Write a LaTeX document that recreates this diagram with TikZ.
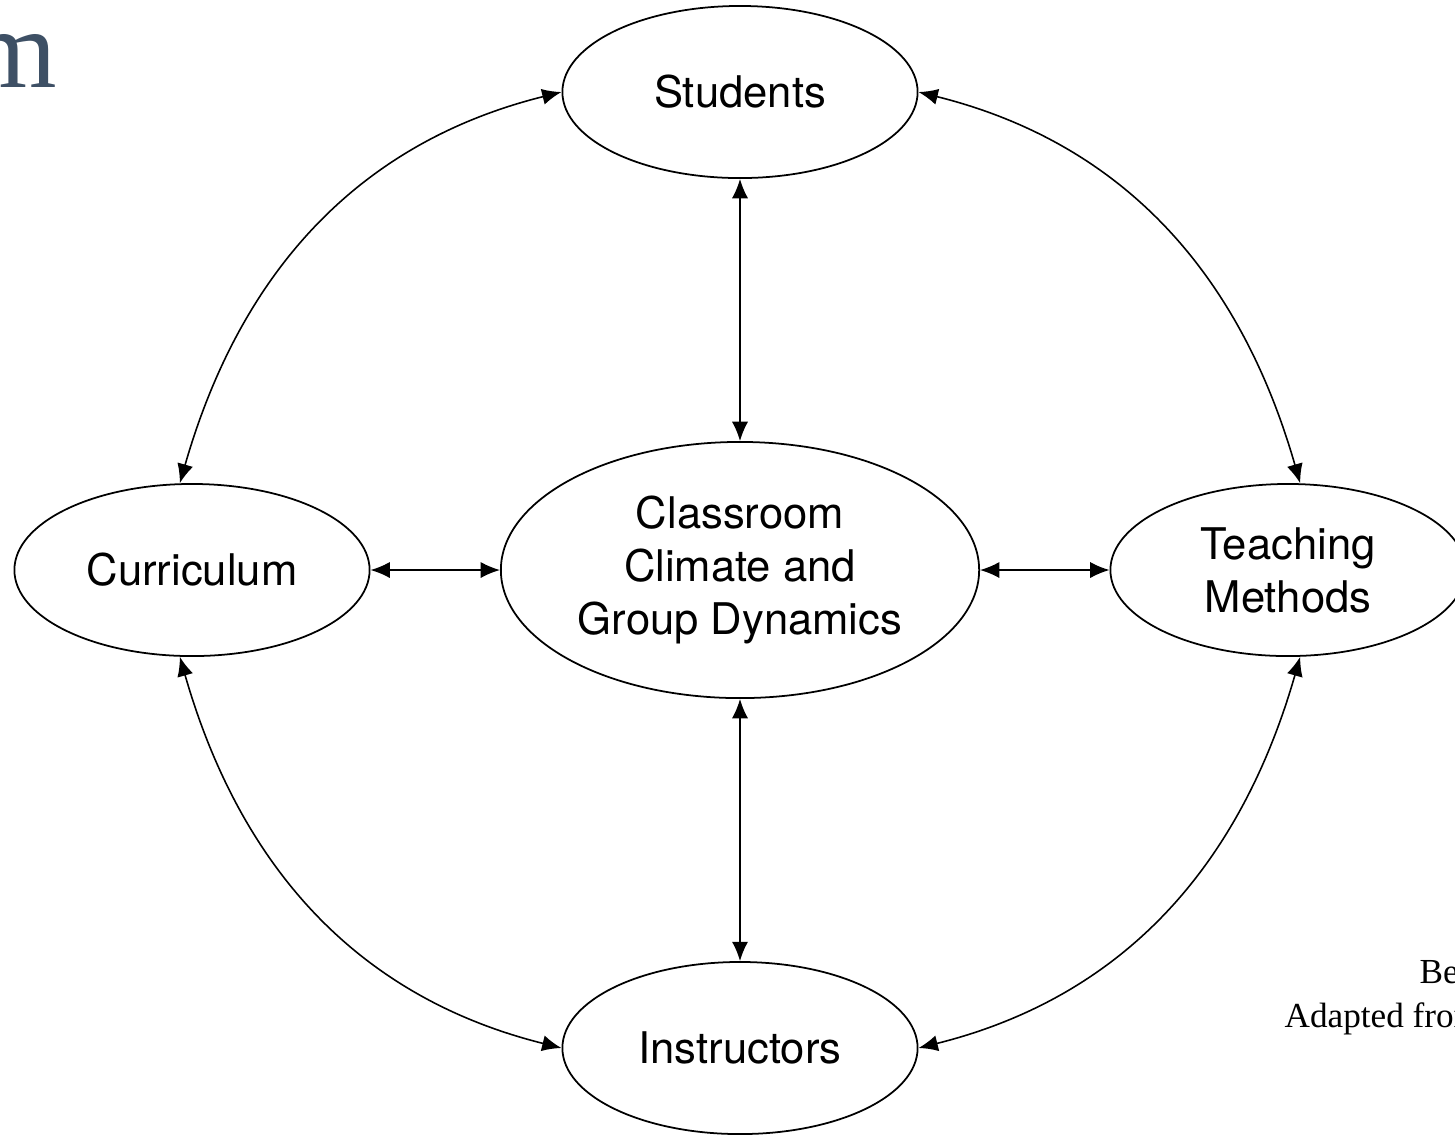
\documentclass[tikz,border=0pt]{standalone}
\usepackage{fontspec}
\setmainfont{Liberation Serif}
\newfontfamily\diagfont{TeX Gyre Heros}
\usetikzlibrary{shapes.geometric,arrows.meta}
\definecolor{slate}{HTML}{3E5065}
\tikzset{
  topic/.style={draw, ellipse, line width=0.5pt, inner sep=0pt,
    minimum width=3.55cm, minimum height=1.72cm, align=center,
    font=\diagfont\fontsize{12.4}{15.1}\selectfont},
  link/.style={arrows={Latex[length=5.5pt,width=4.6pt]-Latex[length=5.5pt,width=4.6pt]},
    line width=0.45pt},
}
\begin{document}
\begin{tikzpicture}[x=0.01cm, y=-0.01cm]
      \useasboundingbox (0,0) rectangle (1455,1138);
      \clip (0,0) rectangle (1455,1138);
      \draw
        (740,92) node[topic] (stu){Students}
        (740,570) node[topic, minimum width=4.78cm, minimum height=2.56cm] (cli){Classroom\\Climate and\\Group Dynamics}
        (192,570) node[topic] (cur){Curriculum}
        (1288,570) node[topic] (tea){Teaching\\Methods}
        (740,1048) node[topic] (ins){Instructors};
      \node[anchor=base east, inner sep=0pt, text=slate, font=\fontsize{32}{32}\selectfont] (title) at (58,87) {m};
      \node[anchor=base west, inner sep=0pt, font=\fontsize{10}{12}\selectfont] (src1) at (1419,983) {Be};
      \node[anchor=base west, inner sep=0pt, font=\fontsize{10}{12}\selectfont] (src2) at (1284,1027) {Adapted from};
      \begin{scope}[link]
        \draw (stu) to (cli);
        \draw (cur) to (cli);
        \draw (cli) to (tea);
        \draw (cli) to (ins);
        \draw (cur.98) to[out=74, in=194] (stu.west);
        \draw (tea.82) to[out=106, in=-14] (stu.east);
        \draw (cur.262) to[out=-74, in=166] (ins.west);
        \draw (tea.278) to[out=-106, in=14] (ins.east);
      \end{scope}
    \end{tikzpicture}
\end{document}
